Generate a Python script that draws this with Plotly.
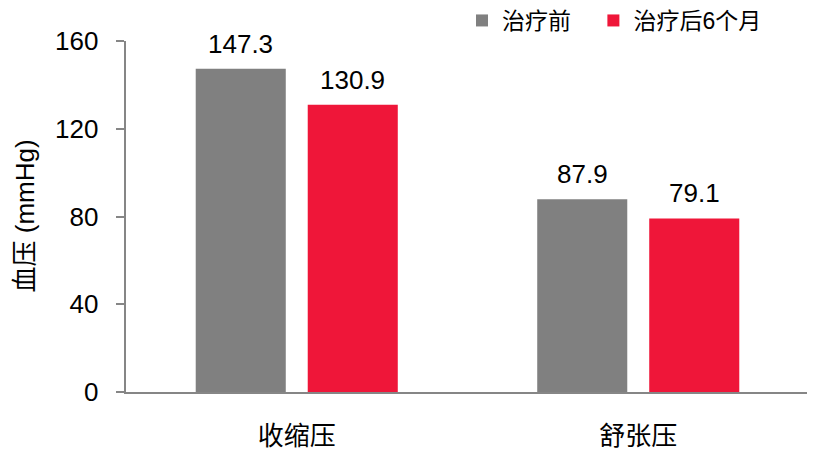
import plotly.graph_objects as go

categories = ["收缩压", "舒张压"]
before = [147.3, 87.9]
after = [130.9, 79.1]
series_names = ["治疗前", "治疗后6个月"]
y_ticks = [0, 40, 80, 120, 160]
y_ticktext = ["0", "40", "80", "120", "160"]

FONT = "Liberation Sans, Arial, Noto Sans CJK SC, sans-serif"
COLORS = ["#808080", "#EF1639"]
SLOT_PX = 56.0  # half of the per-bar slot within a group, in px

# page body has an 8px default margin -> figure is 807x445 drawn at (8,8)
W, H = 807, 445
L, R, T, B = 118, 6, 33, 61
PW = W - L - R
PH = H - T - B

fig = go.Figure()
legend_names = [series_names[0] + "\u00a0\u00a0\u2009", series_names[1]]
for name, vals, col in [(legend_names[0], before, COLORS[0]), (legend_names[1], after, COLORS[1])]:
    fig.add_trace(go.Bar(
        x=categories, y=vals, name=name,
        marker=dict(color=col, line=dict(width=0)),
    ))

# value labels above bars
for vals, shift in [(before, -SLOT_PX), (after, SLOT_PX)]:
    for c, v in zip(categories, vals):
        fig.add_annotation(
            x=c, y=v, xref="x", yref="y", text=f"{v:.1f}", showarrow=False,
            xshift=shift, yanchor="bottom", yshift=8,
            font=dict(size=26, color="#000000", family=FONT),
        )

# y-axis title
fig.add_annotation(
    x=(16 - L) / PW, y=0.5, xref="paper", yref="paper",
    text="血压 (mmHg)", textangle=-90, showarrow=False,
    xanchor="center", yanchor="middle",
    font=dict(size=26, color="#000000", family=FONT),
)

fig.update_layout(
    width=W, height=H,
    margin=dict(l=L, r=R, t=T, b=B, autoexpand=False),
    paper_bgcolor="white", plot_bgcolor="white",
    barmode="group", bargap=0.344, bargroupgap=0.196,
    font=dict(family=FONT, size=26, color="#000000"),
    showlegend=True,
    legend=dict(
        orientation="h", xref="container", yref="paper",
        x=454 / W, xanchor="left", y=1 + (T + 9) / PH, yanchor="top",
        font=dict(size=23, family=FONT), bgcolor="rgba(0,0,0,0)",
        tracegroupgap=0,
    ),
    xaxis=dict(
        showline=True, linecolor="#868686", linewidth=2,
        ticks="", showgrid=False, tickfont=dict(size=26),
        range=[-0.5, 1.5], automargin=False, ticklabelstandoff=20,
    ),
    yaxis=dict(
        range=[0, 160], tickvals=y_ticks,
        ticktext=[t + "\u00a0\u2009" for t in y_ticktext],
        showline=True, linecolor="#868686",
        linewidth=2, ticks="outside", ticklen=8, tickcolor="#868686", tickwidth=2,
        showgrid=False, zeroline=False, tickfont=dict(size=26),
        automargin=False,
    ),
)

fig.write_html("out.html")
